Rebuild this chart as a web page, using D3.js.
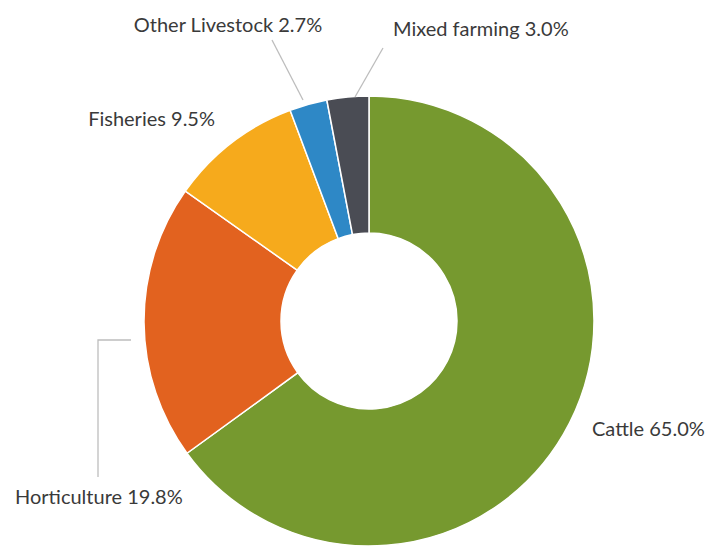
<!DOCTYPE html>
<html><head><meta charset="utf-8">
<script src="https://cdn.jsdelivr.net/npm/d3@7/dist/d3.min.js"></script>
<style>body{margin:0;background:#fff}svg{display:block}</style>
</head><body>
<script>
const categories = ["Cattle", "Horticulture", "Fisheries", "Other Livestock", "Mixed farming"];
const values = [65.0, 19.8, 9.5, 2.7, 3.0];
const colors = ["#76992f", "#e2621f", "#f6aa1c", "#2e88c6", "#4a4c54"];

const W = 722, H = 546, cx = 369, cy = 321, rO = 225, rI = 88;
const svg = d3.select("body").append("svg").attr("width", W).attr("height", H);
const g = svg.append("g").attr("transform", `translate(${cx},${cy})`);
const data = categories.map((c, i) => ({ cat: c, v: values[i], col: colors[i] }));
const pie = d3.pie().sort(null).value(d => d.v);
const arc = d3.arc().innerRadius(rI).outerRadius(rO);
const arcs = pie(data);
g.selectAll("path").data(arcs).join("path")
  .attr("d", arc).attr("fill", d => d.data.col)
  .attr("stroke", "#fff").attr("stroke-width", 1.5);

// label layout (positions relative to page)
const labelPos = {
  "Cattle": { x: 592, y: 436, anchor: "start", line: null },
  "Horticulture": { x: 15, y: 504, anchor: "start", line: [[131, 340], [98, 340], [98, 477]] },
  "Fisheries": { x: 215, y: 126, anchor: "end", line: null },
  "Other Livestock": { x: 228, y: 32, anchor: "middle", line: [[303, 100], [272, 40]] },
  "Mixed farming": { x: 393, y: 36, anchor: "start", line: [[355, 97], [383, 48]] }
};
const line = d3.line();
arcs.forEach(a => {
  const p = labelPos[a.data.cat];
  if (p.line) {
    svg.append("path").attr("d", line(p.line)).attr("fill", "none")
      .attr("stroke", "#bdbdbd").attr("stroke-width", 1.3);
  }
  svg.append("text").attr("x", p.x).attr("y", p.y).attr("text-anchor", p.anchor)
    .attr("font-family", "Lato, sans-serif").attr("font-size", 20).attr("fill", "#3a3a3a")
    .text(`${a.data.cat} ${d3.format(".1f")(a.data.v)}%`);
});
</script>
</body></html>
